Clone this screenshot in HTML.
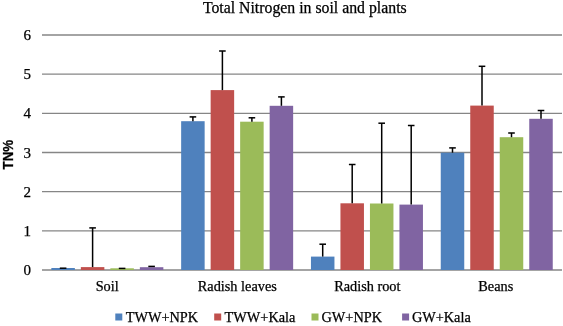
<!DOCTYPE html>
<html><head><meta charset="utf-8"><style>html,body{margin:0;padding:0;background:#fff;width:563px;height:326px;overflow:hidden}svg{display:block;will-change:transform}text{stroke:#000;stroke-width:0.25px}</style></head>
<body><svg width="563" height="326" viewBox="0 0 563 326">
<rect width="563" height="326" fill="#fff"/>
<line x1="42" y1="270.00" x2="562" y2="270.00" stroke="#868686" stroke-width="1.3"/><line x1="42" y1="230.83" x2="562" y2="230.83" stroke="#868686" stroke-width="1.3"/><line x1="42" y1="191.66" x2="562" y2="191.66" stroke="#868686" stroke-width="1.3"/><line x1="42" y1="152.49" x2="562" y2="152.49" stroke="#868686" stroke-width="1.3"/><line x1="42" y1="113.32" x2="562" y2="113.32" stroke="#868686" stroke-width="1.3"/><line x1="42" y1="74.15" x2="562" y2="74.15" stroke="#868686" stroke-width="1.3"/><line x1="42" y1="34.98" x2="562" y2="34.98" stroke="#868686" stroke-width="1.3"/><rect x="51.35" y="268.00" width="23.5" height="2.00" fill="#4F81BD"/><rect x="80.85" y="267.10" width="23.5" height="2.90" fill="#C0504D"/><rect x="110.35" y="268.30" width="23.5" height="1.70" fill="#9BBB59"/><rect x="139.85" y="267.20" width="23.5" height="2.80" fill="#8064A2"/><rect x="181.15" y="121.20" width="23.5" height="148.80" fill="#4F81BD"/><rect x="210.65" y="90.10" width="23.5" height="179.90" fill="#C0504D"/><rect x="240.15" y="121.70" width="23.5" height="148.30" fill="#9BBB59"/><rect x="269.65" y="105.80" width="23.5" height="164.20" fill="#8064A2"/><rect x="310.95" y="256.60" width="23.5" height="13.40" fill="#4F81BD"/><rect x="340.45" y="203.30" width="23.5" height="66.70" fill="#C0504D"/><rect x="369.95" y="203.50" width="23.5" height="66.50" fill="#9BBB59"/><rect x="399.45" y="204.60" width="23.5" height="65.40" fill="#8064A2"/><rect x="440.75" y="152.70" width="23.5" height="117.30" fill="#4F81BD"/><rect x="470.25" y="105.60" width="23.5" height="164.40" fill="#C0504D"/><rect x="499.75" y="137.20" width="23.5" height="132.80" fill="#9BBB59"/><rect x="529.25" y="118.80" width="23.5" height="151.20" fill="#8064A2"/><line x1="59.80" y1="268.20" x2="66.40" y2="268.20" stroke="#000" stroke-width="1.5"/><line x1="92.60" y1="267.10" x2="92.60" y2="227.90" stroke="#000" stroke-width="1.5"/><line x1="89.30" y1="227.90" x2="95.90" y2="227.90" stroke="#000" stroke-width="1.5"/><line x1="118.80" y1="268.40" x2="125.40" y2="268.40" stroke="#000" stroke-width="1.5"/><line x1="148.30" y1="266.40" x2="154.90" y2="266.40" stroke="#000" stroke-width="1.5"/><line x1="192.90" y1="121.20" x2="192.90" y2="116.90" stroke="#000" stroke-width="1.5"/><line x1="189.60" y1="116.90" x2="196.20" y2="116.90" stroke="#000" stroke-width="1.5"/><line x1="222.40" y1="90.10" x2="222.40" y2="51.00" stroke="#000" stroke-width="1.5"/><line x1="219.10" y1="51.00" x2="225.70" y2="51.00" stroke="#000" stroke-width="1.5"/><line x1="251.90" y1="121.70" x2="251.90" y2="117.80" stroke="#000" stroke-width="1.5"/><line x1="248.60" y1="117.80" x2="255.20" y2="117.80" stroke="#000" stroke-width="1.5"/><line x1="281.40" y1="105.80" x2="281.40" y2="96.90" stroke="#000" stroke-width="1.5"/><line x1="278.10" y1="96.90" x2="284.70" y2="96.90" stroke="#000" stroke-width="1.5"/><line x1="322.70" y1="256.60" x2="322.70" y2="244.20" stroke="#000" stroke-width="1.5"/><line x1="319.40" y1="244.20" x2="326.00" y2="244.20" stroke="#000" stroke-width="1.5"/><line x1="352.20" y1="203.30" x2="352.20" y2="164.50" stroke="#000" stroke-width="1.5"/><line x1="348.90" y1="164.50" x2="355.50" y2="164.50" stroke="#000" stroke-width="1.5"/><line x1="381.70" y1="203.50" x2="381.70" y2="123.20" stroke="#000" stroke-width="1.5"/><line x1="378.40" y1="123.20" x2="385.00" y2="123.20" stroke="#000" stroke-width="1.5"/><line x1="411.20" y1="204.60" x2="411.20" y2="125.50" stroke="#000" stroke-width="1.5"/><line x1="407.90" y1="125.50" x2="414.50" y2="125.50" stroke="#000" stroke-width="1.5"/><line x1="452.50" y1="152.70" x2="452.50" y2="147.90" stroke="#000" stroke-width="1.5"/><line x1="449.20" y1="147.90" x2="455.80" y2="147.90" stroke="#000" stroke-width="1.5"/><line x1="482.00" y1="105.60" x2="482.00" y2="66.30" stroke="#000" stroke-width="1.5"/><line x1="478.70" y1="66.30" x2="485.30" y2="66.30" stroke="#000" stroke-width="1.5"/><line x1="511.50" y1="137.20" x2="511.50" y2="133.00" stroke="#000" stroke-width="1.5"/><line x1="508.20" y1="133.00" x2="514.80" y2="133.00" stroke="#000" stroke-width="1.5"/><line x1="541.00" y1="118.80" x2="541.00" y2="110.50" stroke="#000" stroke-width="1.5"/><line x1="537.70" y1="110.50" x2="544.30" y2="110.50" stroke="#000" stroke-width="1.5"/>
<g font-family="Liberation Serif" font-size="15" fill="#000"><text x="31" y="275.10" text-anchor="end">0</text><text x="31" y="235.93" text-anchor="end">1</text><text x="31" y="196.76" text-anchor="end">2</text><text x="31" y="157.59" text-anchor="end">3</text><text x="31" y="118.42" text-anchor="end">4</text><text x="31" y="79.25" text-anchor="end">5</text><text x="31" y="40.08" text-anchor="end">6</text></g>
<g font-family="Liberation Serif" font-size="14.3" fill="#000"><text x="107.2" y="291.2" text-anchor="middle">Soil</text><text x="237.3" y="291.2" text-anchor="middle">Radish leaves</text><text x="367.3" y="291.2" text-anchor="middle">Radish root</text><text x="495.8" y="291.2" text-anchor="middle">Beans</text><rect x="115.3" y="313.5" width="7" height="7" fill="#4F81BD"/><text x="125.7" y="322">TWW+NPK</text><rect x="214.2" y="313.5" width="7" height="7" fill="#C0504D"/><text x="224.6" y="322">TWW+Kala</text><rect x="311.5" y="313.5" width="7" height="7" fill="#9BBB59"/><text x="321.5" y="322">GW+NPK</text><rect x="402.1" y="313.5" width="7" height="7" fill="#8064A2"/><text x="411.9" y="322">GW+Kala</text></g>
<text x="304.8" y="13.1" text-anchor="middle" font-family="Liberation Serif" font-size="15.8" fill="#000">Total Nitrogen in soil and plants</text>
<text transform="translate(8,154.7) rotate(-90) scale(1,1.13) translate(0,4.4)" text-anchor="middle" font-family="Liberation Sans" font-weight="bold" font-size="13.3" fill="#000">TN%</text>
</svg></body></html>
